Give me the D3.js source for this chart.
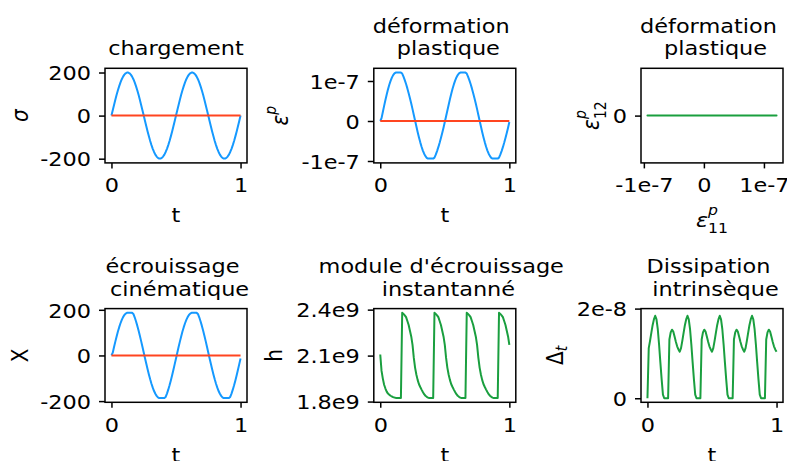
<!DOCTYPE html>
<html><head><meta charset="utf-8">
<script src="https://cdn.jsdelivr.net/npm/d3@7"></script>
<style>body{margin:0;background:#fff}svg{display:block}text{font-family:"DejaVu Sans",sans-serif;fill:#000}</style>
</head><body>
<svg id="c" width="787" height="461"></svg>
<script>
// ---------------- data ----------------
const tVals = [0,0.01,0.02,0.03,0.04,0.05,0.06,0.07,0.08,0.09,0.1,0.11,0.12,0.13,0.14,0.15,0.16,0.17,0.18,0.19,
0.2,0.21,0.22,0.23,0.24,0.25,0.26,0.27,0.28,0.29,0.3,0.31,0.32,0.33,0.34,0.35,0.36,0.37,0.38,0.39,
0.4,0.41,0.42,0.43,0.44,0.45,0.46,0.47,0.48,0.49,0.5,0.51,0.52,0.53,0.54,0.55,0.56,0.57,0.58,0.59,
0.6,0.61,0.62,0.63,0.64,0.65,0.66,0.67,0.68,0.69,0.7,0.71,0.72,0.73,0.74,0.75,0.76,0.77,0.78,0.79,
0.8,0.81,0.82,0.83,0.84,0.85,0.86,0.87,0.88,0.89,0.9,0.91,0.92,0.93,0.94,0.95,0.96,0.97,0.98,0.99,1];

// chargement sigma
const sigma = [0,25.1,49.7,73.6,96.4,117.6,136.9,154.1,168.9,181.0,190.2,196.5,199.6,199.6,196.5,190.2,181.0,168.9,154.1,136.9,117.6,96.4,73.6,49.7,25.1,0,
-25.1,-49.7,-73.6,-96.4,-117.6,-136.9,-154.1,-168.9,-181.0,-190.2,-196.5,-199.6,-199.6,-196.5,-190.2,-181.0,-168.9,-154.1,-136.9,-117.6,-96.4,-73.6,-49.7,-25.1,0,
25.1,49.7,73.6,96.4,117.6,136.9,154.1,168.9,181.0,190.2,196.5,199.6,199.6,196.5,190.2,181.0,168.9,154.1,136.9,117.6,96.4,73.6,49.7,25.1,0,
-25.1,-49.7,-73.6,-96.4,-117.6,-136.9,-154.1,-168.9,-181.0,-190.2,-196.5,-199.6,-199.6,-196.5,-190.2,-181.0,-168.9,-154.1,-136.9,-117.6,-96.4,-73.6,-49.7,-25.1,0];

// zero (shear) component
const zeroSeries = [0,0,0,0,0,0,0,0,0,0,0,0,0,0,0,0,0,0,0,0,0,0,0,0,0,0,0,0,0,0,0,0,0,0,0,0,0,0,0,0,0,0,0,0,0,0,0,0,0,0,
0,0,0,0,0,0,0,0,0,0,0,0,0,0,0,0,0,0,0,0,0,0,0,0,0,0,0,0,0,0,0,0,0,0,0,0,0,0,0,0,0,0,0,0,0,0,0,0,0,0,0];

// plastic strain (x 1e-7)
const epsP = [0,0.072,0.226,0.378,0.525,0.664,0.791,0.905,1.004,1.085,1.147,1.189,1.210,1.210,1.210,1.210,1.210,
1.186,1.111,1.023,0.924,0.815,0.696,0.569,0.436,0.297,0.152,0.007,-0.138,-0.279,-0.412,-0.534,-0.644,-0.739,-0.818,-0.878,-0.920,-0.940,-0.940,-0.940,-0.940,-0.940,
-0.916,-0.841,-0.753,-0.654,-0.545,-0.426,-0.299,-0.166,-0.027,0.118,0.263,0.408,0.549,0.682,0.804,0.914,1.009,1.088,1.148,1.190,1.210,1.210,1.210,1.210,1.210,
1.186,1.111,1.023,0.924,0.815,0.696,0.569,0.436,0.297,0.152,0.007,-0.138,-0.279,-0.412,-0.534,-0.644,-0.739,-0.818,-0.878,-0.920,-0.940,-0.940,-0.940,-0.940,-0.940,
-0.916,-0.841,-0.753,-0.654,-0.545,-0.426,-0.299,-0.166,-0.027];

// kinematic hardening X
const kinX = [0,12.1,36.7,60.6,83.4,104.6,123.9,141.1,155.9,168.0,177.2,183.5,186.6,186.6,186.6,186.6,186.6,
181.9,167.1,149.9,130.6,109.4,86.6,62.7,38.1,13.0,-12.1,-36.7,-60.6,-83.4,-104.6,-123.9,-141.1,-155.9,-168.0,-177.2,-183.5,-186.6,-186.6,-186.6,-186.6,-186.6,
-181.9,-167.1,-149.9,-130.6,-109.4,-86.6,-62.7,-38.1,-13.0,12.1,36.7,60.6,83.4,104.6,123.9,141.1,155.9,168.0,177.2,183.5,186.6,186.6,186.6,186.6,186.6,
181.9,167.1,149.9,130.6,109.4,86.6,62.7,38.1,13.0,-12.1,-36.7,-60.6,-83.4,-104.6,-123.9,-141.1,-155.9,-168.0,-177.2,-183.5,-186.6,-186.6,-186.6,-186.6,-186.6,
-181.9,-167.1,-149.9,-130.6,-109.4,-86.6,-62.7,-38.1,-13.0];

// instantaneous hardening modulus h (x 1e9)
const hMod = [2.107,2.000,1.950,1.910,1.885,1.865,1.852,1.845,1.838,1.833,1.829,1.826,1.824,1.823,1.823,1.823,1.823,
2.379,2.372,2.363,2.351,2.326,2.300,2.262,2.225,2.170,2.085,2.020,1.975,1.940,1.913,1.895,1.878,1.862,1.848,1.838,1.831,1.826,1.823,1.823,1.823,1.823,
2.379,2.372,2.363,2.351,2.326,2.300,2.262,2.225,2.170,2.085,2.020,1.975,1.940,1.913,1.895,1.878,1.862,1.848,1.838,1.831,1.826,1.823,1.823,1.823,1.823,
2.379,2.372,2.363,2.351,2.326,2.300,2.262,2.225,2.170,2.085,2.020,1.975,1.940,1.913,1.895,1.878,1.862,1.848,1.838,1.831,1.826,1.823,1.823,1.823,1.823,
2.379,2.372,2.363,2.351,2.326,2.300,2.262,2.225,2.170];

// intrinsic dissipation (x 1e-8)
const diss = [0,1.12,1.28,1.46,1.63,1.76,1.84,1.76,1.54,1.20,0.80,0.42,0.08,0,0,0,0,
1.31,1.47,1.53,1.49,1.38,1.26,1.16,1.09,1.04,1.12,1.28,1.46,1.63,1.76,1.84,1.76,1.54,1.20,0.80,0.42,0.08,0,0,0,0,
1.31,1.47,1.53,1.49,1.38,1.26,1.16,1.09,1.04,1.12,1.28,1.46,1.63,1.76,1.84,1.76,1.54,1.20,0.80,0.42,0.08,0,0,0,0,
1.31,1.47,1.53,1.49,1.38,1.26,1.16,1.09,1.04,1.12,1.28,1.46,1.63,1.76,1.84,1.76,1.54,1.20,0.80,0.42,0.08,0,0,0,0,
1.31,1.47,1.53,1.49,1.38,1.26,1.16,1.09,1.04];
const dissYLim = [-0.09, 2.0];

// ticks
const tTicks = [0, 1], tTickLabels = ["0", "1"];
const sigmaTicks = [-200, 0, 200], sigmaTickLabels = ["-200", "0", "200"];
const epsTicks = [-1, 0, 1], epsTickLabels = ["-1e-7", "0", "1e-7"];
const eps12Ticks = [0], eps12TickLabels = ["0"];
const kinTicks = [-200, 0, 200], kinTickLabels = ["-200", "0", "200"];
const hTicks = [1.8, 2.1, 2.4], hTickLabels = ["1.8e9", "2.1e9", "2.4e9"];
const dissTicks = [0, 2], dissTickLabels = ["0", "2e-8"];

// ---------------- drawing ----------------
const BLUE = "#1599ff", RED = "#ff4520", GREEN = "#1a9f3f";
const FS = 20, SUB = 14, SX = 1.12;
const colX = [105, 373.8, 641], AW = 142;
const rowY = [68.3, 308.6], AH = [94.6, 93.7];
const svg = d3.select("#c");

function pad(arr){const e=d3.extent(arr);const r=e[1]-e[0];return [e[0]-0.05*r,e[1]+0.05*r];}

function mathText(parent, parts, anchor){
  const t = parent.append("text").attr("text-anchor", anchor).style("font-size", FS+"px");
  parts.forEach(p=>{
    const s = t.append("tspan").text(p.t);
    if(p.it) s.style("font-style","italic");
    if(p.sz) s.style("font-size", p.sz+"px");
    if(p.dy) s.attr("dy", p.dy);
    if(p.dx) s.attr("dx", p.dx);
  });
  return t;
}

function panel(cfg){
  const x0 = colX[cfg.col], y0 = rowY[cfg.row], h = AH[cfg.row];
  const g = svg.append("g").attr("transform", `translate(${x0},${y0})`);
  const x = d3.scaleLinear().domain(cfg.xDomain).range([0, AW]);
  const y = d3.scaleLinear().domain(cfg.yDomain).range([h, 0]);
  const cid = "clip" + cfg.id;
  g.append("clipPath").attr("id", cid).append("rect").attr("width", AW).attr("height", h);
  const plot = g.append("g").attr("clip-path", `url(#${cid})`);
  cfg.series.forEach(s=>{
    const line = d3.line().x((d,i)=>x(s.xs[i])).y(d=>y(d));
    plot.append("path").datum(s.ys).attr("d", line).attr("fill","none")
      .attr("stroke", s.color).attr("stroke-width", 2).attr("stroke-linejoin","round");
  });
  const ya = g.append("g").call(d3.axisLeft(y).tickValues(cfg.yTicks).tickFormat((d,i)=>cfg.yTickLabels[i]).tickSize(6));
  const xa = g.append("g").attr("transform", `translate(0,${h})`)
    .call(d3.axisBottom(x).tickValues(cfg.xTicks).tickFormat((d,i)=>cfg.xTickLabels[i]).tickSize(5.5));
  [ya, xa].forEach(a=>{
    a.select(".domain").remove();
    a.attr("font-size", null).attr("font-family", null);
    a.selectAll("line").attr("stroke", "#000").attr("stroke-width", 1.5);
    a.selectAll("text").style("font-size", FS+"px").attr("fill", "#000").attr("transform", `scale(${SX},1)`);
  });
  ya.selectAll("text").attr("x", -14/SX).attr("dy", "0.36em");
  xa.selectAll("text").attr("y", 29.5).attr("dy", "0");
  g.append("rect").attr("width", AW).attr("height", h).attr("fill","none")
    .attr("stroke","#000").attr("stroke-width", 1.5);

  // title
  const cx = AW/2, n = cfg.title.length, sp = 3.55;
  cfg.title.forEach((ln, i)=>{
    const off = n > 1 ? (i === 0 ? -sp : sp) : 0;
    const base = -12.9 - (n-1-i)*22.4;
    g.append("g").attr("transform", `translate(${cx+off},${base}) scale(${SX},1)`)
      .append("text").attr("text-anchor","middle").style("font-size", FS+"px").text(ln);
  });
  // x label
  const xg = g.append("g").attr("transform", `translate(${cx},${h + cfg.xLabelOff}) scale(${SX},1)`);
  mathText(xg, cfg.xLabel, "middle");
  // y label
  const yg = svg.append("g").attr("transform", `translate(${cfg.yLabelX},${y0 + h/2}) scale(${SX},1) rotate(-90)`);
  mathText(yg, cfg.yLabel, "middle");
}

const tLabel = [{t:"t"}];
const tDom = pad(tVals);

panel({id:1, row:0, col:0, xDomain:tDom, yDomain:pad(sigma),
  series:[{xs:tVals, ys:sigma, color:BLUE},{xs:tVals, ys:zeroSeries, color:RED}],
  xTicks:tTicks, xTickLabels:tTickLabels, yTicks:sigmaTicks, yTickLabels:sigmaTickLabels,
  title:["chargement"], xLabel:tLabel, xLabelOff:59.5, yLabel:[{t:"σ", it:true}], yLabelX:28.3});

panel({id:2, row:0, col:1, xDomain:tDom, yDomain:pad(epsP),
  series:[{xs:tVals, ys:epsP, color:BLUE},{xs:tVals, ys:zeroSeries, color:RED}],
  xTicks:tTicks, xTickLabels:tTickLabels, yTicks:epsTicks, yTickLabels:epsTickLabels,
  title:["déformation","plastique"], xLabel:tLabel, xLabelOff:59.5,
  yLabel:[{t:"ε", it:true},{t:"p", it:true, sz:SUB, dy:-11}], yLabelX:288.3});

panel({id:3, row:0, col:2, xDomain:pad(epsP), yDomain:[-1, 1],
  series:[{xs:epsP, ys:zeroSeries, color:GREEN}],
  xTicks:epsTicks, xTickLabels:epsTickLabels, yTicks:eps12Ticks, yTickLabels:eps12TickLabels,
  title:["déformation","plastique"],
  xLabel:[{t:"ε", it:true},{t:"p", it:true, sz:SUB, dy:-12},{t:"11", sz:SUB, dx:-8.9, dy:18}], xLabelOff:64,
  yLabel:[{t:"ε", it:true},{t:"p", it:true, sz:SUB, dy:-12},{t:"12", sz:SUB, dx:-8.9, dy:18}], yLabelX:599});

panel({id:4, row:1, col:0, xDomain:tDom, yDomain:pad(kinX),
  series:[{xs:tVals, ys:kinX, color:BLUE},{xs:tVals, ys:zeroSeries, color:RED}],
  xTicks:tTicks, xTickLabels:tTickLabels, yTicks:kinTicks, yTickLabels:kinTickLabels,
  title:["écrouissage","cinématique"], xLabel:tLabel, xLabelOff:59.5, yLabel:[{t:"X"}], yLabelX:28.3});

panel({id:5, row:1, col:1, xDomain:tDom, yDomain:pad(hMod),
  series:[{xs:tVals, ys:hMod, color:GREEN}],
  xTicks:tTicks, xTickLabels:tTickLabels, yTicks:hTicks, yTickLabels:hTickLabels,
  title:["module d'écrouissage","instantanné"], xLabel:tLabel, xLabelOff:59.5, yLabel:[{t:"h"}], yLabelX:281.5});

panel({id:6, row:1, col:2, xDomain:tDom, yDomain:dissYLim,
  series:[{xs:tVals, ys:diss, color:GREEN}],
  xTicks:tTicks, xTickLabels:tTickLabels, yTicks:dissTicks, yTickLabels:dissTickLabels,
  title:["Dissipation","intrinsèque"], xLabel:tLabel, xLabelOff:59.5,
  yLabel:[{t:"Δ"},{t:"t", it:true, sz:SUB, dy:4}], yLabelX:563});
</script>
</body></html>
